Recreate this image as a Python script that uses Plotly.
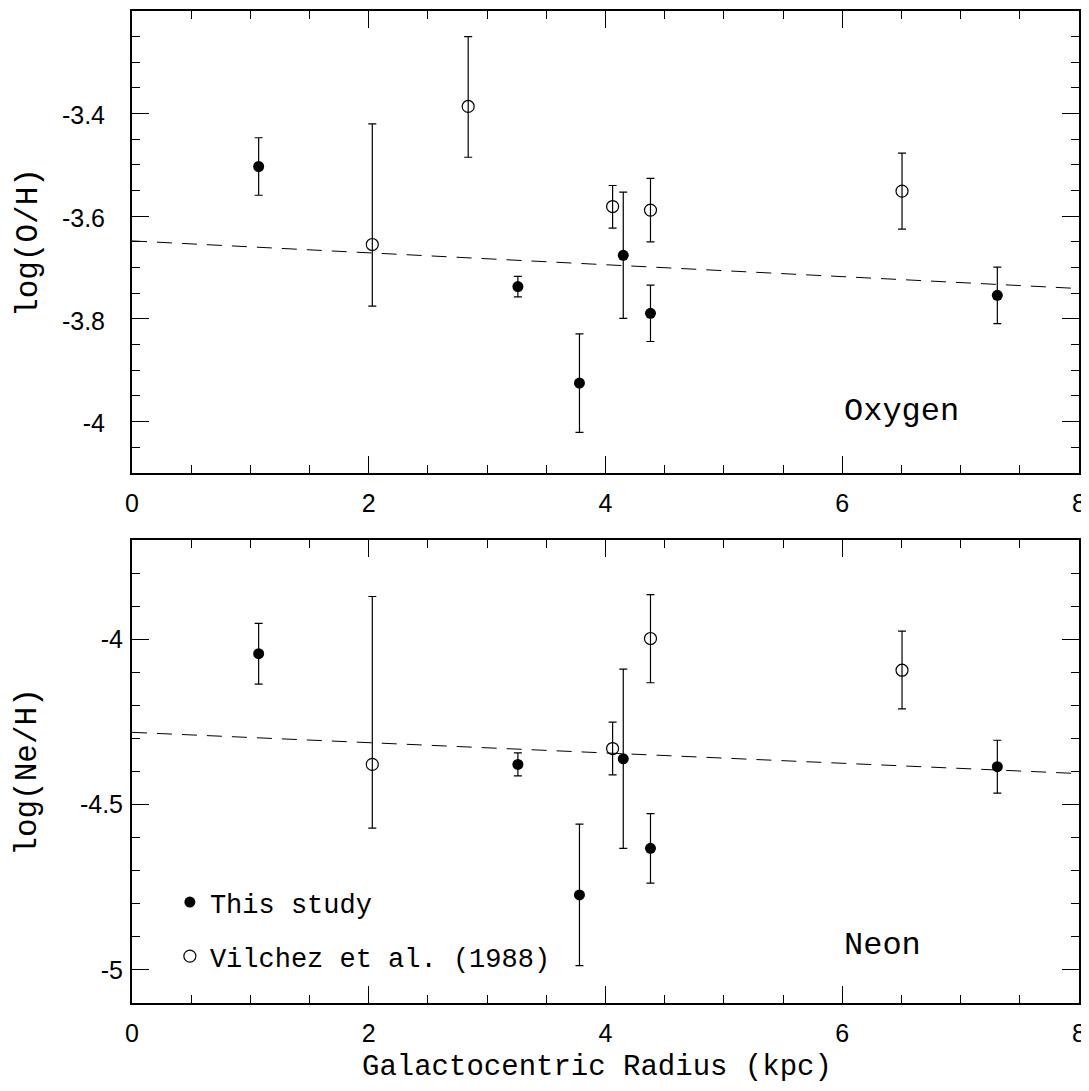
import plotly.graph_objects as go

# ---- data ----
radius_this = [1.07, 3.26, 3.78, 4.15, 4.38, 7.31]
logOH_this = [-3.503, -3.737, -3.925, -3.676, -3.789, -3.754]
logOH_this_err = [0.056, 0.020, 0.096, 0.123, 0.055, 0.055]

radius_vil_O = [2.03, 2.84, 4.06, 4.38, 6.505]
logOH_vil = [-3.655, -3.386, -3.581, -3.588, -3.551]
logOH_vil_plus = [0.235, 0.136, 0.041, 0.062, 0.074]
logOH_vil_minus = [0.120, 0.099, 0.042, 0.062, 0.074]

logNeH_this = [-4.043, -4.378, -4.773, -4.361, -4.632, -4.385]
logNeH_this_err = [0.092, 0.035, 0.214, 0.271, 0.105, 0.080]

radius_vil_Ne = [2.03, 4.06, 4.38, 6.505]
logNeH_vil = [-4.378, -4.330, -3.997, -4.093]
logNeH_vil_plus = [0.508, 0.080, 0.133, 0.118]
logNeH_vil_minus = [0.193, 0.080, 0.134, 0.117]

fit_O = {"intercept": -3.648, "slope": -0.0116}
fit_Ne = {"intercept": -4.281, "slope": -0.0156}
fit_x = [0, 8]

x_ticks = [0, 2, 4, 6, 8]
x_ticktext = ["0", "2", "4", "6", "8"]
yO_ticks = [-3.2, -3.4, -3.6, -3.8, -4.0]
yO_ticktext = ["-3.2", "-3.4", "-3.6", "-3.8", "-4"]
yNe_ticks = [-4.0, -4.5, -5.0]
yNe_ticktext = ["-4", "-4.5", "-5"]

SERIF = "Liberation Mono"
SANS = "Liberation Sans"

fig = go.Figure()

def add_panel(xa, ya, y_this, e_this, x_vil, y_vil, ep, em, fit, show_leg):
    fig.add_trace(go.Scatter(
        x=fit_x, y=[fit["intercept"] + fit["slope"] * v for v in fit_x],
        mode="lines", line=dict(color="black", width=1, dash="15px,10px"),
        xaxis=xa, yaxis=ya, showlegend=False, hoverinfo="skip"))
    fig.add_trace(go.Scatter(
        x=radius_this, y=y_this, mode="markers",
        marker=dict(symbol="circle", size=11, color="black"),
        error_y=dict(type="data", array=e_this, color="black", thickness=1.2, width=4),
        xaxis=xa, yaxis=ya, name="This study", legendgroup="a", showlegend=show_leg))
    fig.add_trace(go.Scatter(
        x=x_vil, y=y_vil, mode="markers",
        marker=dict(symbol="circle-open", size=12, color="black", line=dict(width=1.2, color="black")),
        error_y=dict(type="data", symmetric=False, array=ep, arrayminus=em,
                     color="black", thickness=1.2, width=4),
        xaxis=xa, yaxis=ya, name="Vilchez et al. (1988)", legendgroup="b", showlegend=show_leg))

add_panel("x", "y", logOH_this, logOH_this_err, radius_vil_O, logOH_vil,
          logOH_vil_plus, logOH_vil_minus, fit_O, False)
add_panel("x2", "y2", logNeH_this, logNeH_this_err, radius_vil_Ne, logNeH_vil,
          logNeH_vil_plus, logNeH_vil_minus, fit_Ne, True)

common_axis = dict(
    showline=True, linewidth=2, linecolor="black", mirror="allticks",
    ticks="inside", tickwidth=1, tickcolor="black", ticklen=17,
    showgrid=False, zeroline=False,
    tickfont=dict(family=SANS, size=25, color="black"),
)

xcommon = dict(common_axis, range=[0, 8], tickmode="array", tickvals=x_ticks,
               ticktext=x_ticktext, ticklabelstandoff=7, ticklabeloverflow="allow",
               minor=dict(dtick=0.5, tick0=0, ticks="inside", ticklen=8,
                          tickwidth=1, tickcolor="black", showgrid=False))

fig.update_layout(
    width=1081, height=1083,
    margin=dict(l=124, r=10, t=1, b=88),
    paper_bgcolor="white", plot_bgcolor="white",
    xaxis=dict(xcommon, anchor="y", domain=[0, 1]),
    xaxis2=dict(xcommon, anchor="y2", domain=[0, 1]),
    yaxis=dict(common_axis, range=[-4.1, -3.2], domain=[0.5344, 1], anchor="x",
               tickmode="array", tickvals=yO_ticks, ticktext=yO_ticktext,
               ticklabelstandoff=20, ticklabelshift=2,
               minor=dict(dtick=0.05, tick0=-3.2, ticks="inside", ticklen=8,
                          tickwidth=1, tickcolor="black", showgrid=False)),
    yaxis2=dict(common_axis, range=[-5.1, -3.7], domain=[0, 0.4664], anchor="x2",
                tickmode="array", tickvals=yNe_ticks, ticktext=yNe_ticktext,
                ticklabelstandoff=2, ticklabelshift=0,
                minor=dict(dtick=0.1, tick0=-4.0, ticks="inside", ticklen=8,
                           tickwidth=1, tickcolor="black", showgrid=False)),
    legend=dict(x=0.04, y=0.126, xanchor="left", yanchor="top",
                font=dict(family=SERIF, size=27, color="black"),
                bgcolor="rgba(0,0,0,0)", traceorder="grouped",
                tracegroupgap=16, itemwidth=30),
    showlegend=True,
)

annots = [
    dict(text="log(O/H)", xref="paper", yref="paper", x=-0.11, y=0.767,
         textangle=-90, showarrow=False, xanchor="center", yanchor="middle",
         font=dict(family=SERIF, size=31, color="black")),
    dict(text="log(Ne/H)", xref="paper", yref="paper", x=-0.11, y=0.233,
         textangle=-90, showarrow=False, xanchor="center", yanchor="middle",
         font=dict(family=SERIF, size=31, color="black")),
    dict(text="Galactocentric Radius (kpc)", xref="paper", yref="paper",
         x=0.491, y=-0.065, showarrow=False, xanchor="center", yanchor="middle",
         font=dict(family=SERIF, size=29, color="black")),
    dict(text="Oxygen", xref="x", yref="y", x=6.0, y=-3.98, showarrow=False,
         xanchor="left", yanchor="middle",
         font=dict(family=SERIF, size=32, color="black")),
    dict(text="Neon", xref="x2", yref="y2", x=6.0, y=-4.925, showarrow=False,
         xanchor="left", yanchor="middle",
         font=dict(family=SERIF, size=32, color="black")),
]
fig.update_layout(annotations=annots)

fig.write_html("out.html")
